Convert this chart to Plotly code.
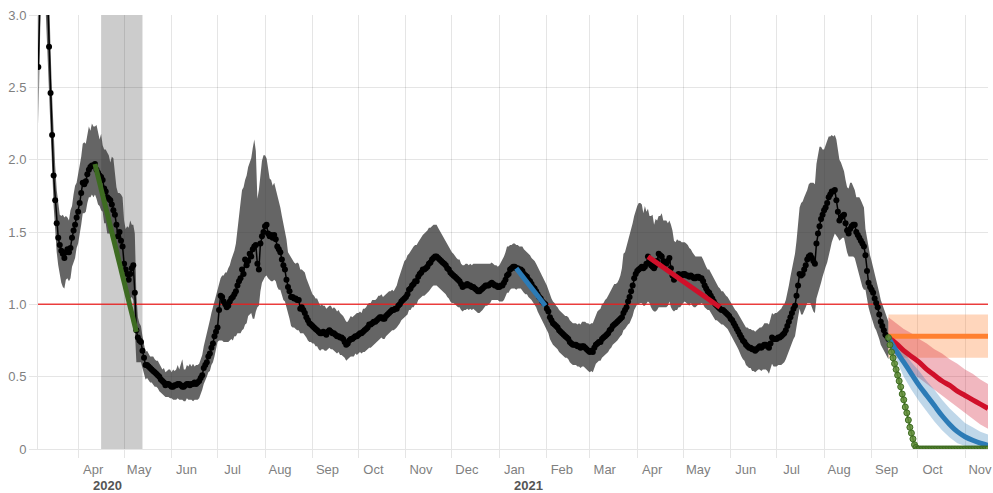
import datetime as dt
import plotly.graph_objects as go

# ---------------- data ----------------
series_start = dt.date(2020, 3, 6)

# daily reproduction number estimate (10 values per row)
rt = [
    2.64, 3.30, 3.80, 4.00, 3.80, 3.45, 3.08, 2.78, 2.46, 2.17,
    1.89, 1.72, 1.56, 1.46, 1.41, 1.37, 1.35, 1.32, 1.36, 1.38,
    1.36, 1.39, 1.46, 1.51, 1.55, 1.60, 1.64, 1.70, 1.77, 1.84,
    1.83, 1.85, 1.90, 1.93, 1.95, 1.96, 1.96, 1.97, 1.93, 1.91,
    1.89, 1.88, 1.86, 1.80, 1.78, 1.74, 1.73, 1.72, 1.69, 1.65,
    1.62, 1.55, 1.47, 1.50, 1.44, 1.40, 1.28, 1.24, 1.21, 1.17,
    1.21, 1.25, 1.27, 1.08, 0.82, 0.77, 0.75, 0.74, 0.68, 0.63,
    0.58, 0.58, 0.57, 0.56, 0.55, 0.54, 0.53, 0.52, 0.51, 0.50,
    0.48, 0.47, 0.46, 0.44, 0.45, 0.45, 0.44, 0.43, 0.43, 0.44,
    0.44, 0.45, 0.45, 0.44, 0.43, 0.43, 0.44, 0.45, 0.45, 0.44,
    0.45, 0.45, 0.46, 0.45, 0.46, 0.47, 0.49, 0.51, 0.56, 0.58,
    0.60, 0.64, 0.66, 0.70, 0.73, 0.78, 0.81, 0.84, 0.96, 1.06,
    1.05, 1.02, 1.00, 0.98, 0.99, 1.02, 1.04, 1.05, 1.07, 1.09,
    1.13, 1.16, 1.18, 1.24, 1.21, 1.31, 1.27, 1.30, 1.35, 1.33,
    1.38, 1.40, 1.41, 1.28, 1.24, 1.42, 1.47, 1.50, 1.54, 1.55,
    1.49, 1.47, 1.48, 1.46, 1.48, 1.45, 1.40, 1.38, 1.36, 1.31,
    1.27, 1.24, 1.17, 1.12, 1.09, 1.05, 1.05, 1.04, 1.04, 1.03,
    1.03, 0.97, 0.98, 0.96, 0.94, 0.91, 0.89, 0.87, 0.86, 0.85,
    0.84, 0.83, 0.82, 0.81, 0.80, 0.80, 0.81, 0.80, 0.79, 0.81,
    0.82, 0.81, 0.80, 0.80, 0.79, 0.78, 0.78, 0.77, 0.77, 0.76,
    0.74, 0.72, 0.73, 0.75, 0.76, 0.76, 0.77, 0.78, 0.78, 0.79,
    0.80, 0.80, 0.81, 0.82, 0.83, 0.84, 0.86, 0.86, 0.87, 0.88,
    0.88, 0.89, 0.90, 0.91, 0.91, 0.90, 0.90, 0.92, 0.93, 0.94,
    0.95, 0.96, 0.96, 0.97, 0.97, 0.99, 1.00, 1.02, 1.03, 1.04,
    1.05, 1.07, 1.10, 1.11, 1.13, 1.14, 1.16, 1.16, 1.19, 1.21,
    1.22, 1.24, 1.24, 1.25, 1.26, 1.28, 1.29, 1.31, 1.32, 1.33,
    1.33, 1.32, 1.31, 1.30, 1.29, 1.28, 1.27, 1.25, 1.24, 1.22,
    1.21, 1.20, 1.19, 1.18, 1.17, 1.16, 1.14, 1.12, 1.13, 1.13,
    1.14, 1.13, 1.13, 1.12, 1.12, 1.11, 1.10, 1.09, 1.09, 1.10,
    1.11, 1.12, 1.13, 1.13, 1.13, 1.14, 1.15, 1.14, 1.13, 1.13,
    1.12, 1.12, 1.13, 1.13, 1.15, 1.17, 1.20, 1.21, 1.24, 1.25,
    1.26, 1.26, 1.25, 1.25, 1.24, 1.24, 1.23, 1.21, 1.20, 1.19,
    1.17, 1.16, 1.14, 1.12, 1.11, 1.09, 1.07, 1.05, 1.04, 1.02,
    1.01, 1.00, 0.97, 0.95, 0.91, 0.89, 0.87, 0.86, 0.85, 0.84,
    0.82, 0.81, 0.80, 0.79, 0.78, 0.77, 0.76, 0.74, 0.73, 0.72,
    0.72, 0.72, 0.71, 0.71, 0.70, 0.71, 0.71, 0.70, 0.69, 0.68,
    0.67, 0.68, 0.67, 0.70, 0.72, 0.73, 0.74, 0.74, 0.76, 0.77,
    0.78, 0.79, 0.80, 0.82, 0.83, 0.85, 0.86, 0.87, 0.88, 0.89,
    0.90, 0.91, 0.94, 0.96, 0.98, 1.02, 1.05, 1.09, 1.13, 1.18,
    1.21, 1.23, 1.24, 1.25, 1.26, 1.25, 1.26, 1.28, 1.33, 1.30,
    1.27, 1.26, 1.25, 1.27, 1.30, 1.35, 1.34, 1.33, 1.30, 1.29,
    1.28, 1.30, 1.32, 1.25, 1.20, 1.17, 1.19, 1.20, 1.21, 1.20,
    1.20, 1.21, 1.21, 1.20, 1.20, 1.19, 1.20, 1.19, 1.18, 1.18,
    1.19, 1.19, 1.18, 1.18, 1.16, 1.13, 1.11, 1.09, 1.08, 1.06,
    1.04, 1.02, 1.00, 0.99, 0.98, 0.97, 0.96, 0.96, 0.95, 0.94,
    0.93, 0.92, 0.90, 0.89, 0.87, 0.85, 0.83, 0.81, 0.79, 0.77,
    0.75, 0.74, 0.72, 0.71, 0.70, 0.70, 0.69, 0.69, 0.68, 0.69,
    0.70, 0.71, 0.70, 0.71, 0.72, 0.72, 0.71, 0.70, 0.73, 0.77,
    0.76, 0.76, 0.76, 0.77, 0.77, 0.78, 0.79, 0.80, 0.82, 0.85,
    0.88, 0.91, 0.94, 0.97, 0.99, 1.06, 1.13, 1.21, 1.20, 1.21,
    1.24, 1.27, 1.31, 1.33, 1.34, 1.32, 1.30, 1.28, 1.42, 1.49,
    1.54, 1.59, 1.62, 1.65, 1.67, 1.70, 1.74, 1.76, 1.78, 1.78,
    1.79, 1.72, 1.64, 1.58, 1.60, 1.61, 1.62, 1.56, 1.51, 1.49,
    1.52, 1.54, 1.55, 1.55, 1.50, 1.48, 1.46, 1.44, 1.42, 1.40,
    1.34, 1.23, 1.15, 1.12, 1.10, 1.08, 1.04, 1.01, 0.98, 0.93,
    0.88, 0.85, 0.82, 0.79, 0.78, 0.76,
]

# distance from the estimate to the top of the credible band
ci_above = [
    0.55, 0.60, 0.60, 0.60, 0.60, 0.55, 0.45, 0.35, 0.30, 0.27,
    0.25, 0.24, 0.23, 0.22, 0.21, 0.24, 0.27, 0.28, 0.25, 0.22,
    0.22, 0.26, 0.22, 0.25, 0.27, 0.24, 0.26, 0.28, 0.25, 0.27,
    0.29, 0.26, 0.28, 0.30, 0.25, 0.29, 0.27, 0.26, 0.31, 0.28,
    0.25, 0.30, 0.24, 0.27, 0.29, 0.31, 0.30, 0.26, 0.33, 0.36,
    0.28, 0.26, 0.30, 0.27, 0.32, 0.34, 0.30, 0.28, 0.33, 0.36,
    0.37, 0.30, 0.28, 0.41, 0.25, 0.14, 0.12, 0.11, 0.10, 0.10,
    0.09, 0.10, 0.09, 0.08, 0.09, 0.10, 0.09, 0.09, 0.10, 0.09,
    0.09, 0.08, 0.10, 0.09, 0.09, 0.10, 0.11, 0.10, 0.12, 0.10,
    0.11, 0.13, 0.10, 0.14, 0.19, 0.12, 0.11, 0.13, 0.12, 0.15,
    0.12, 0.14, 0.11, 0.13, 0.12, 0.12, 0.13, 0.14, 0.15, 0.17,
    0.19, 0.21, 0.23, 0.24, 0.25, 0.24, 0.26, 0.27, 0.18, 0.12,
    0.15, 0.18, 0.22, 0.24, 0.26, 0.25, 0.27, 0.29, 0.30, 0.33,
    0.40, 0.45, 0.52, 0.55, 0.60, 0.55, 0.62, 0.65, 0.63, 0.68,
    0.70, 0.74, 0.65, 0.45, 0.55, 0.50, 0.52, 0.53, 0.49, 0.46,
    0.43, 0.40, 0.38, 0.36, 0.36, 0.35, 0.34, 0.32, 0.31, 0.30,
    0.29, 0.27, 0.28, 0.24, 0.25, 0.27, 0.26, 0.25, 0.24, 0.26,
    0.25, 0.27, 0.26, 0.27, 0.28, 0.27, 0.26, 0.25, 0.24, 0.22,
    0.22, 0.21, 0.22, 0.20, 0.19, 0.20, 0.18, 0.19, 0.18, 0.17,
    0.17, 0.18, 0.17, 0.18, 0.18, 0.17, 0.18, 0.17, 0.16, 0.16,
    0.16, 0.16, 0.15, 0.15, 0.16, 0.15, 0.15, 0.15, 0.16, 0.15,
    0.15, 0.14, 0.16, 0.15, 0.15, 0.16, 0.15, 0.15, 0.16, 0.15,
    0.15, 0.15, 0.16, 0.15, 0.16, 0.15, 0.16, 0.15, 0.15, 0.15,
    0.14, 0.14, 0.13, 0.14, 0.16, 0.18, 0.20, 0.22, 0.24, 0.26,
    0.26, 0.27, 0.25, 0.26, 0.25, 0.26, 0.25, 0.25, 0.24, 0.24,
    0.24, 0.24, 0.25, 0.25, 0.25, 0.25, 0.24, 0.23, 0.23, 0.22,
    0.22, 0.21, 0.20, 0.19, 0.18, 0.17, 0.16, 0.16, 0.15, 0.15,
    0.15, 0.15, 0.14, 0.14, 0.14, 0.15, 0.14, 0.15, 0.14, 0.15,
    0.14, 0.14, 0.15, 0.15, 0.16, 0.17, 0.18, 0.19, 0.19, 0.18,
    0.17, 0.16, 0.15, 0.15, 0.15, 0.14, 0.14, 0.14, 0.14, 0.14,
    0.14, 0.15, 0.16, 0.17, 0.18, 0.19, 0.20, 0.19, 0.17, 0.16,
    0.16, 0.16, 0.16, 0.16, 0.16, 0.16, 0.17, 0.17, 0.17, 0.17,
    0.18, 0.18, 0.18, 0.19, 0.19, 0.19, 0.19, 0.18, 0.18, 0.17,
    0.17, 0.16, 0.16, 0.15, 0.15, 0.15, 0.15, 0.15, 0.14, 0.14,
    0.14, 0.14, 0.14, 0.14, 0.14, 0.15, 0.15, 0.15, 0.15, 0.15,
    0.15, 0.15, 0.15, 0.16, 0.16, 0.17, 0.17, 0.18, 0.18, 0.19,
    0.19, 0.19, 0.20, 0.20, 0.21, 0.22, 0.22, 0.23, 0.24, 0.24,
    0.25, 0.25, 0.26, 0.26, 0.27, 0.27, 0.28, 0.27, 0.27, 0.28,
    0.30, 0.34, 0.41, 0.40, 0.42, 0.40, 0.41, 0.42, 0.43, 0.43,
    0.44, 0.45, 0.46, 0.45, 0.43, 0.38, 0.42, 0.36, 0.33, 0.31,
    0.34, 0.36, 0.30, 0.32, 0.28, 0.26, 0.27, 0.30, 0.28, 0.29,
    0.30, 0.26, 0.26, 0.30, 0.31, 0.27, 0.24, 0.25, 0.23, 0.24,
    0.23, 0.22, 0.22, 0.22, 0.21, 0.20, 0.18, 0.17, 0.16, 0.15,
    0.14, 0.14, 0.15, 0.15, 0.15, 0.15, 0.15, 0.15, 0.16, 0.16,
    0.16, 0.16, 0.15, 0.15, 0.14, 0.14, 0.13, 0.13, 0.12, 0.12,
    0.12, 0.11, 0.11, 0.11, 0.11, 0.11, 0.12, 0.12, 0.12, 0.12,
    0.12, 0.12, 0.12, 0.13, 0.13, 0.13, 0.13, 0.13, 0.13, 0.13,
    0.13, 0.13, 0.14, 0.14, 0.15, 0.15, 0.16, 0.16, 0.17, 0.17,
    0.17, 0.18, 0.18, 0.18, 0.19, 0.19, 0.20, 0.20, 0.21, 0.22,
    0.25, 0.28, 0.30, 0.33, 0.36, 0.38, 0.42, 0.46, 0.50, 0.50,
    0.50, 0.49, 0.48, 0.50, 0.50, 0.52, 0.54, 0.55, 0.55, 0.54,
    0.55, 0.50, 0.45, 0.42, 0.43, 0.42, 0.42, 0.40, 0.39, 0.38,
    0.38, 0.42, 0.42, 0.42, 0.38, 0.34, 0.30, 0.30, 0.30, 0.31,
    0.32, 0.30, 0.26, 0.24, 0.24, 0.26, 0.28, 0.28, 0.28, 0.27,
    0.18, 0.22, 0.24, 0.22, 0.20, 0.18, 0.16, 0.16, 0.15, 0.15,
    0.15, 0.15, 0.14, 0.14, 0.13, 0.12,
]

# distance from the estimate down to the bottom of the credible band
ci_below = [
    0.40, 0.45, 0.50, 0.50, 0.50, 0.45, 0.40, 0.30, 0.25, 0.22,
    0.21, 0.20, 0.20, 0.19, 0.21, 0.22, 0.23, 0.21, 0.19, 0.20,
    0.20, 0.21, 0.20, 0.22, 0.23, 0.21, 0.22, 0.23, 0.22, 0.21,
    0.20, 0.21, 0.20, 0.19, 0.21, 0.20, 0.22, 0.21, 0.20, 0.22,
    0.21, 0.23, 0.22, 0.24, 0.22, 0.25, 0.24, 0.23, 0.22, 0.21,
    0.20, 0.19, 0.18, 0.20, 0.17, 0.16, 0.14, 0.13, 0.14, 0.15,
    0.17, 0.20, 0.24, 0.25, 0.22, 0.17, 0.15, 0.14, 0.12, 0.10,
    0.10, 0.09, 0.09, 0.10, 0.09, 0.09, 0.10, 0.09, 0.09, 0.10,
    0.09, 0.09, 0.09, 0.08, 0.09, 0.09, 0.09, 0.08, 0.09, 0.10,
    0.10, 0.10, 0.11, 0.10, 0.09, 0.10, 0.11, 0.10, 0.11, 0.10,
    0.11, 0.12, 0.12, 0.11, 0.12, 0.12, 0.11, 0.10, 0.11, 0.10,
    0.10, 0.11, 0.12, 0.12, 0.13, 0.14, 0.13, 0.10, 0.21, 0.31,
    0.30, 0.28, 0.26, 0.24, 0.25, 0.27, 0.28, 0.30, 0.29, 0.31,
    0.33, 0.36, 0.38, 0.42, 0.38, 0.45, 0.40, 0.38, 0.42, 0.39,
    0.48, 0.50, 0.46, 0.30, 0.25, 0.33, 0.32, 0.33, 0.35, 0.35,
    0.31, 0.30, 0.32, 0.30, 0.31, 0.29, 0.28, 0.28, 0.26, 0.25,
    0.24, 0.22, 0.20, 0.18, 0.19, 0.20, 0.21, 0.20, 0.21, 0.21,
    0.21, 0.17, 0.18, 0.16, 0.15, 0.14, 0.14, 0.13, 0.12, 0.12,
    0.11, 0.12, 0.11, 0.12, 0.12, 0.11, 0.12, 0.12, 0.11, 0.12,
    0.12, 0.12, 0.11, 0.12, 0.12, 0.12, 0.11, 0.12, 0.12, 0.12,
    0.11, 0.11, 0.11, 0.12, 0.12, 0.12, 0.13, 0.12, 0.13, 0.13,
    0.13, 0.14, 0.14, 0.15, 0.15, 0.15, 0.16, 0.16, 0.16, 0.16,
    0.15, 0.15, 0.15, 0.15, 0.14, 0.14, 0.14, 0.14, 0.14, 0.14,
    0.14, 0.14, 0.14, 0.14, 0.13, 0.14, 0.13, 0.13, 0.13, 0.13,
    0.13, 0.14, 0.14, 0.15, 0.15, 0.16, 0.16, 0.16, 0.16, 0.17,
    0.17, 0.18, 0.18, 0.18, 0.18, 0.19, 0.19, 0.19, 0.19, 0.20,
    0.20, 0.20, 0.20, 0.20, 0.20, 0.20, 0.20, 0.20, 0.20, 0.20,
    0.20, 0.19, 0.19, 0.19, 0.19, 0.18, 0.18, 0.17, 0.17, 0.17,
    0.17, 0.17, 0.16, 0.16, 0.15, 0.15, 0.15, 0.15, 0.15, 0.15,
    0.15, 0.15, 0.14, 0.14, 0.13, 0.13, 0.12, 0.11, 0.10, 0.10,
    0.09, 0.10, 0.11, 0.11, 0.12, 0.12, 0.12, 0.13, 0.14, 0.14,
    0.15, 0.15, 0.15, 0.14, 0.13, 0.13, 0.13, 0.13, 0.13, 0.12,
    0.12, 0.12, 0.11, 0.11, 0.11, 0.11, 0.12, 0.12, 0.13, 0.14,
    0.14, 0.15, 0.15, 0.15, 0.15, 0.15, 0.15, 0.15, 0.15, 0.15,
    0.15, 0.15, 0.15, 0.15, 0.15, 0.14, 0.14, 0.14, 0.14, 0.14,
    0.14, 0.14, 0.14, 0.14, 0.14, 0.14, 0.14, 0.14, 0.14, 0.14,
    0.14, 0.14, 0.14, 0.14, 0.13, 0.13, 0.13, 0.13, 0.13, 0.13,
    0.13, 0.13, 0.13, 0.13, 0.13, 0.13, 0.13, 0.13, 0.13, 0.13,
    0.12, 0.12, 0.12, 0.13, 0.14, 0.16, 0.18, 0.20, 0.21, 0.22,
    0.23, 0.23, 0.24, 0.24, 0.25, 0.26, 0.27, 0.28, 0.31, 0.29,
    0.29, 0.30, 0.30, 0.32, 0.34, 0.37, 0.36, 0.35, 0.32, 0.31,
    0.30, 0.31, 0.30, 0.27, 0.24, 0.22, 0.23, 0.24, 0.23, 0.22,
    0.21, 0.20, 0.19, 0.19, 0.20, 0.20, 0.19, 0.20, 0.20, 0.20,
    0.20, 0.19, 0.18, 0.17, 0.16, 0.15, 0.14, 0.13, 0.12, 0.12,
    0.11, 0.11, 0.11, 0.10, 0.10, 0.10, 0.10, 0.10, 0.10, 0.10,
    0.10, 0.10, 0.11, 0.11, 0.11, 0.12, 0.12, 0.12, 0.12, 0.13,
    0.13, 0.13, 0.14, 0.14, 0.14, 0.14, 0.15, 0.15, 0.15, 0.15,
    0.15, 0.16, 0.16, 0.16, 0.17, 0.17, 0.17, 0.18, 0.18, 0.18,
    0.19, 0.19, 0.19, 0.19, 0.19, 0.20, 0.20, 0.20, 0.20, 0.20,
    0.20, 0.21, 0.21, 0.21, 0.21, 0.21, 0.22, 0.24, 0.27, 0.28,
    0.29, 0.29, 0.30, 0.32, 0.33, 0.34, 0.35, 0.34, 0.38, 0.41,
    0.43, 0.44, 0.43, 0.42, 0.41, 0.41, 0.41, 0.38, 0.35, 0.32,
    0.30, 0.24, 0.18, 0.14, 0.15, 0.15, 0.16, 0.15, 0.15, 0.16,
    0.19, 0.21, 0.22, 0.23, 0.23, 0.24, 0.26, 0.28, 0.30, 0.30,
    0.24, 0.18, 0.17, 0.18, 0.20, 0.20, 0.20, 0.19, 0.18, 0.17,
    0.16, 0.15, 0.15, 0.14, 0.14, 0.14,
]

threshold = 1.0
lockdown_start = "2020-04-16"
lockdown_end = "2020-05-13"

# fitted decline segments
trend_start_dates = ["2020-04-12", "2021-01-12", "2021-04-08"]
trend_start_values = [1.97, 1.25, 1.33]
trend_end_dates = ["2020-05-09", "2021-01-31", "2021-05-25"]
trend_end_values = [0.81, 0.99, 0.98]

# scenario projections (day offsets from the last estimate)
proj_start = dt.date(2021, 9, 12)
flat_days = [0, 65]
flat_proj = [0.78, 0.78]
flat_hi = [0.93, 0.93]
flat_lo = [0.63, 0.63]

step_days = [0, 5, 10, 15, 20, 25, 30, 35, 40, 45, 50, 55, 60, 65]
slow_proj = [0.77, 0.73, 0.68, 0.64, 0.60, 0.55, 0.51, 0.47, 0.44, 0.40, 0.37, 0.34, 0.31, 0.28]
slow_hi = [0.91, 0.87, 0.83, 0.80, 0.76, 0.73, 0.69, 0.66, 0.62, 0.59, 0.55, 0.52, 0.48, 0.45]
slow_lo = [0.74, 0.65, 0.58, 0.53, 0.49, 0.45, 0.41, 0.37, 0.33, 0.29, 0.25, 0.21, 0.17, 0.14]
mid_proj = [0.77, 0.68, 0.60, 0.52, 0.44, 0.37, 0.30, 0.23, 0.17, 0.12, 0.085, 0.06, 0.04, 0.025]
mid_hi = [0.78, 0.73, 0.67, 0.60, 0.54, 0.47, 0.41, 0.34, 0.28, 0.23, 0.18, 0.15, 0.12, 0.10]
mid_lo = [0.76, 0.62, 0.50, 0.41, 0.33, 0.26, 0.19, 0.13, 0.08, 0.04, 0.02, 0.0, 0.0, 0.0]

fast_proj = [
    0.77, 0.72, 0.67, 0.63, 0.59, 0.55, 0.51, 0.47, 0.43, 0.38,
    0.34, 0.29, 0.25, 0.20, 0.15, 0.11, 0.07, 0.03, 0.01, 0.0,
    0.0, 0.0, 0.0, 0.0, 0.0, 0.0, 0.0, 0.0, 0.0, 0.0,
    0.0, 0.0, 0.0, 0.0, 0.0, 0.0, 0.0, 0.0, 0.0, 0.0,
    0.0, 0.0, 0.0, 0.0, 0.0, 0.0, 0.0, 0.0, 0.0, 0.0,
    0.0, 0.0, 0.0, 0.0, 0.0, 0.0, 0.0, 0.0, 0.0, 0.0,
    0.0, 0.0, 0.0, 0.0, 0.0, 0.0,
]
fast_hi = [0.78, 0.76, 0.72, 0.68, 0.64, 0.60, 0.56, 0.52, 0.48, 0.43,
           0.39, 0.34, 0.30, 0.25, 0.20, 0.16, 0.11, 0.07, 0.04, 0.02]
fast_lo = [0.76, 0.68, 0.63, 0.59, 0.55, 0.51, 0.47, 0.43, 0.39, 0.34,
           0.30, 0.25, 0.21, 0.16, 0.11, 0.07, 0.03, 0.00, 0.00, 0.00]

x_range = ["2020-03-05 19:00", "2021-11-16"]
y_ticks = [0, 0.5, 1.0, 1.5, 2.0, 2.5, 3.0]
y_tick_labels = ["0", "0.5", "1.0", "1.5", "2.0", "2.5", "3.0"]
year_labels = ["2020", "2021"]
year_label_dates = ["2020-04-20", "2021-01-20"]

# ---------------- styling ----------------
GRID = "rgba(0,0,0,0.1)"
TICK_FONT = dict(family="Liberation Sans, Arial, sans-serif", size=13, color="#7f7f7f")
C_GREEN = "#3d6b21"
C_BLUE = "#2c7bb6"
C_RED = "#d0102a"
C_ORANGE = "#ff8030"

assert len(rt) == len(ci_above) == len(ci_below)

dates = [series_start + dt.timedelta(days=i) for i in range(len(rt))]
upper = [m + a for m, a in zip(rt, ci_above)]
lower = [m - b for m, b in zip(rt, ci_below)]


def offs(days):
    return [proj_start + dt.timedelta(days=d) for d in days]


def band(x, hi, lo, color):
    return go.Scatter(x=list(x) + list(x)[::-1], y=list(hi) + list(lo)[::-1],
                      fill="toself", fillcolor=color, line=dict(width=0),
                      mode="lines", hoverinfo="skip")


fig = go.Figure()

# credible interval of the estimate
fig.add_trace(band(dates, upper, lower, "rgba(50,50,50,0.75)"))

# Rt = 1 reference
fig.add_trace(go.Scatter(x=x_range, y=[threshold, threshold], mode="lines",
                         line=dict(color="rgba(235,30,30,0.85)", width=1.5)))

# daily estimate
fig.add_trace(go.Scatter(x=dates, y=rt, mode="lines+markers",
                         line=dict(color="black", width=1.5),
                         marker=dict(color="black", size=6)))

# fitted decline segments
for x0, y0, x1, y1, col in zip(trend_start_dates, trend_start_values,
                               trend_end_dates, trend_end_values,
                               [C_GREEN, C_BLUE, C_RED]):
    fig.add_trace(go.Scatter(x=[x0, x1], y=[y0, y1], mode="lines",
                             line=dict(color=col, width=5)))

# projection bands
fig.add_trace(band(offs(flat_days), flat_hi, flat_lo, "rgba(255,128,48,0.32)"))
fig.add_trace(band(offs(step_days), slow_hi, slow_lo, "rgba(208,16,42,0.30)"))
fig.add_trace(band(offs(step_days), mid_hi, mid_lo, "rgba(44,123,182,0.30)"))
fig.add_trace(band(offs(range(len(fast_hi))), fast_hi, fast_lo, "rgba(110,170,70,0.40)"))

# projection lines
fig.add_trace(go.Scatter(x=offs(flat_days), y=flat_proj, mode="lines",
                         line=dict(color=C_ORANGE, width=5)))
fig.add_trace(go.Scatter(x=offs(step_days), y=slow_proj, mode="lines",
                         line=dict(color=C_RED, width=5, shape="spline")))
fig.add_trace(go.Scatter(x=offs(step_days), y=mid_proj, mode="lines",
                         line=dict(color=C_BLUE, width=5, shape="spline")))
fig.add_trace(go.Scatter(x=offs(range(len(fast_proj))), y=fast_proj, mode="lines+markers",
                         line=dict(color=C_GREEN, width=1.5),
                         marker=dict(color="rgba(95,140,55,0.85)", size=6,
                                     line=dict(color=C_GREEN, width=1))))

# lockdown period shading
fig.add_shape(type="rect", xref="x", yref="paper", x0=lockdown_start, x1=lockdown_end,
              y0=0, y1=1, fillcolor="#cccccc", line=dict(width=0), layer="below")

# month ticks at the start of each month
month_starts = []
d = dt.date(2020, 4, 1)
while d <= dt.date(2021, 11, 1):
    month_starts.append(d)
    d = dt.date(d.year + (d.month // 12), d.month % 12 + 1, 1)
month_names = [m.strftime("%b") for m in month_starts]

for label, xd in zip(year_labels, year_label_dates):
    fig.add_annotation(x=xd, y=0, xref="x", yref="paper", yshift=-36,
                       text="<b>" + label + "</b>", showarrow=False, yanchor="middle",
                       font=dict(family=TICK_FONT["family"], size=13, color="#555555"))

fig.update_layout(
    width=993, height=493,
    margin=dict(l=38, r=1, t=15, b=44),
    paper_bgcolor="white", plot_bgcolor="white",
    showlegend=False, hovermode=False,
    font=TICK_FONT,
)
fig.update_xaxes(type="date", range=x_range, tickmode="array",
                 tickvals=month_starts, ticktext=month_names, ticklabelshift=15,
                 ticklabeloverflow="allow",
                 showgrid=True, gridcolor=GRID, gridwidth=1,
                 ticks="outside", ticklen=8, tickcolor=GRID,
                 showline=True, linecolor=GRID, zeroline=False,
                 tickfont=TICK_FONT)
fig.update_yaxes(range=[0, 3], tickmode="array", tickvals=y_ticks, ticktext=y_tick_labels,
                 showgrid=True, gridcolor=GRID, gridwidth=1,
                 ticks="outside", ticklen=8, tickcolor=GRID,
                 showline=True, linecolor=GRID, zeroline=False,
                 tickfont=TICK_FONT)

fig.write_html("out.html", config={"displayModeBar": False})
